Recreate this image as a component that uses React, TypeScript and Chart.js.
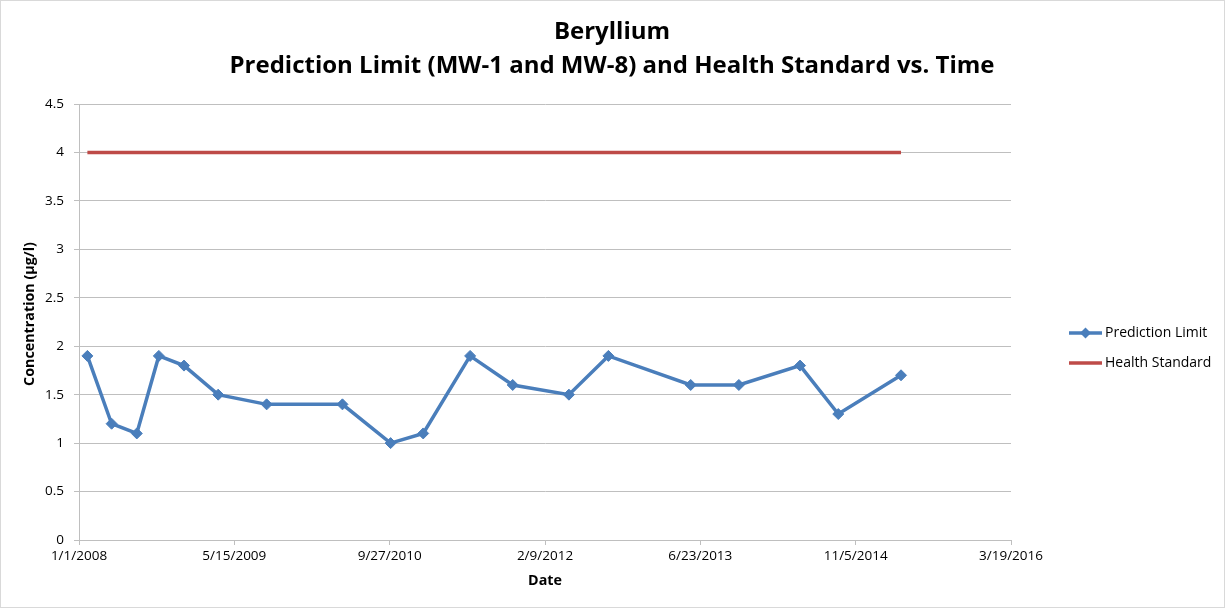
import React, { useEffect, useRef } from "react";
import { Chart, registerables } from "chart.js";

Chart.register(...registerables);

const sampleDates = [
  "2008-01-28", "2008-04-15", "2008-07-05", "2008-09-14", "2008-12-04",
  "2009-03-24", "2009-08-27", "2010-04-28", "2010-09-30", "2011-01-13",
  "2011-06-13", "2011-10-28", "2012-04-26", "2012-08-31", "2013-05-23",
  "2013-10-25", "2014-05-10", "2014-09-10", "2015-03-31",
];
const predictionLimit = [
  1.9, 1.2, 1.1, 1.9, 1.8, 1.5, 1.4, 1.4, 1.0, 1.1,
  1.9, 1.6, 1.5, 1.9, 1.6, 1.6, 1.8, 1.3, 1.7,
];
const healthDates = ["2008-01-28", "2015-03-31"];
const healthStandard = [4, 4];
const xTickDays = [0, 500, 1000, 1500, 2000, 2500, 3000];
const yTicks = [0, 0.5, 1, 1.5, 2, 2.5, 3, 3.5, 4, 4.5];

const titleLines = ["Beryllium", "Prediction Limit (MW-1 and MW-8) and Health Standard vs. Time"];
const xTitle = "Date";
const yTitle = "Concentration (µg/l)";
const seriesNames = ["Prediction Limit", "Health Standard"];

const DAY = 86400000;
const ORIGIN = Date.UTC(2008, 0, 1);
const toDay = (s: string) => {
  const [y, m, d] = s.split("-").map(Number);
  return Math.round((Date.UTC(y, m - 1, d) - ORIGIN) / DAY);
};
const fmt = (v: number) => {
  const d = new Date(ORIGIN + v * DAY);
  return `${d.getUTCMonth() + 1}/${d.getUTCDate()}/${d.getUTCFullYear()}`;
};

const FONT = "'Open Sans', 'Liberation Sans', sans-serif";
const BLUE = "#4a7ebb";
const RED = "#be4b48";
const GRID = "#bfbfbf";

const decorPlugin = {
  id: "decor",
  afterDraw(chart: any) {
    const ctx = chart.ctx;
    const { left, right } = chart.chartArea;
    ctx.save();
    ctx.strokeStyle = "#d9d9d9";
    ctx.lineWidth = 1;
    ctx.strokeRect(0.5, 0.5, 1224, 607);
    ctx.fillStyle = "#000";
    ctx.textAlign = "center";
    ctx.textBaseline = "middle";
    ctx.font = `bold 24px ${FONT}`;
    ctx.fillText(titleLines[0], 612, 32);
    ctx.fillText(titleLines[1], 612, 66);
    ctx.font = `bold 14.3px ${FONT}`;
    ctx.fillText(xTitle, (left + right) / 2, 581);
    ctx.translate(30, 314);
    ctx.rotate(-Math.PI / 2);
    ctx.fillText(yTitle, 0, 0);
    ctx.restore();

    ctx.save();
    ctx.font = `14px ${FONT}`;
    ctx.textAlign = "left";
    ctx.textBaseline = "middle";
    const items = [
      { y: 333, color: BLUE, marker: true, label: seriesNames[0] },
      { y: 363, color: RED, marker: false, label: seriesNames[1] },
    ];
    for (const it of items) {
      ctx.strokeStyle = it.color;
      ctx.lineWidth = 3.5;
      ctx.beginPath();
      ctx.moveTo(1069, it.y);
      ctx.lineTo(1102, it.y);
      ctx.stroke();
      if (it.marker) {
        ctx.fillStyle = it.color;
        ctx.beginPath();
        ctx.moveTo(1085.5, it.y - 5.5);
        ctx.lineTo(1091, it.y);
        ctx.lineTo(1085.5, it.y + 5.5);
        ctx.lineTo(1080, it.y);
        ctx.closePath();
        ctx.fill();
      }
      ctx.fillStyle = "#000";
      ctx.fillText(it.label, 1105, it.y);
    }
    ctx.restore();
  },
};

export default function App() {
  const ref = useRef<HTMLCanvasElement>(null);
  useEffect(() => {
    document.body.style.margin = "0";
    const chart = new Chart(ref.current!, {
      type: "line",
      data: {
        datasets: [
          {
            label: seriesNames[0],
            data: sampleDates.map((d, i) => ({ x: toDay(d), y: predictionLimit[i] })),
            borderColor: BLUE,
            backgroundColor: BLUE,
            borderWidth: 3.5,
            pointStyle: "rectRot",
            pointRadius: 5.5,
            pointBorderWidth: 1,
            tension: 0,
          },
          {
            label: seriesNames[1],
            data: healthDates.map((d, i) => ({ x: toDay(d), y: healthStandard[i] })),
            borderColor: RED,
            backgroundColor: RED,
            borderWidth: 3.5,
            pointRadius: 0,
            tension: 0,
          },
        ],
      },
      options: {
        animation: false,
        responsive: false,
        layout: { padding: { left: 0, top: 104, right: 217, bottom: 0 } },
        plugins: { legend: { display: false }, title: { display: false }, tooltip: { enabled: false } },
        scales: {
          x: {
            type: "linear",
            min: 0,
            max: 3000,
            afterBuildTicks: (s: any) => {
              s.ticks = xTickDays.map((v) => ({ value: v }));
            },
            afterFit: (s: any) => {
              s.height = 70;
              s.paddingLeft = 0;
              s.paddingRight = 0;
            },
            ticks: {
              callback: (v: any) => fmt(Number(v)),
              font: { family: FONT, size: 13.5 },
              color: "#000",
              padding: 3,
              maxRotation: 0,
              autoSkip: false,
            },
            grid: { drawOnChartArea: false, drawTicks: true, tickLength: 5, color: GRID },
            border: { color: GRID, width: 1 },
          },
          y: {
            min: 0,
            max: 4.5,
            afterBuildTicks: (s: any) => {
              s.ticks = yTicks.map((v) => ({ value: v }));
            },
            afterFit: (s: any) => {
              s.width = 79;
              s.paddingTop = 0;
              s.paddingBottom = 0;
            },
            ticks: {
              callback: (v: any) => String(v),
              font: { family: FONT, size: 13.5 },
              color: "#000",
              padding: 10,
            },
            grid: { color: GRID, tickLength: 5, lineWidth: 1 },
            border: { color: GRID, width: 1 },
          },
        },
      },
      plugins: [decorPlugin],
    });
    return () => chart.destroy();
  }, []);
  return <canvas ref={ref} width={1228} height={610} style={{ display: "block" }} />;
}
